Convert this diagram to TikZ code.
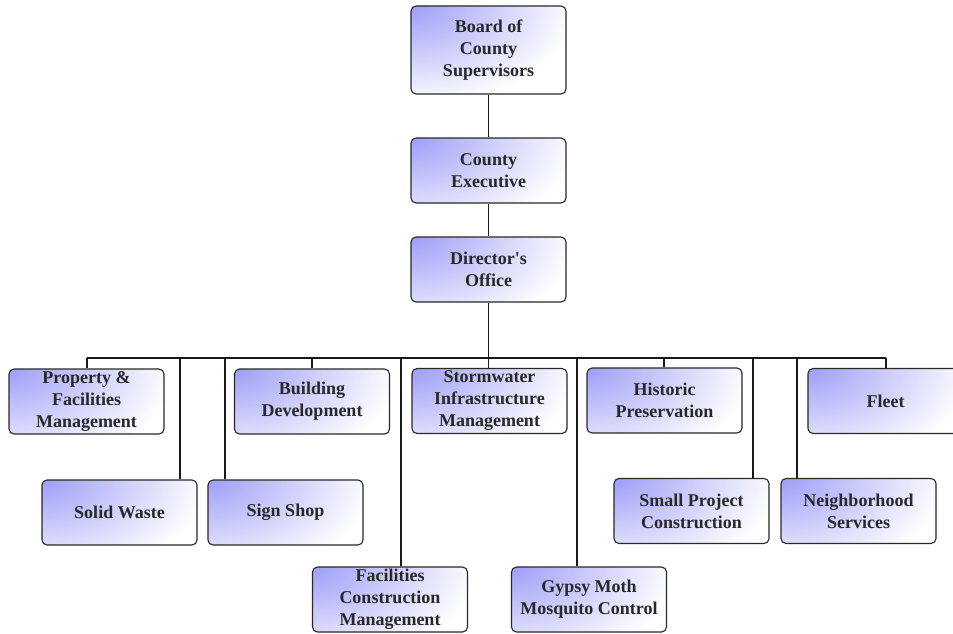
\documentclass[tikz,border=0pt]{standalone}
\usepackage{fontspec}
\setmainfont{Liberation Serif}
\begin{document}
\begin{tikzpicture}[x=1pt,y=-1pt,
  unit/.style={draw={rgb,255:red,40;green,40;blue,40}, line width=1.1pt, rounded corners=5pt, fill=white,
    path picture={\shade[inner color={rgb,255:red,158;green,158;blue,247}, outer color=white]
      (path picture bounding box.north west) ellipse (165 and 100);},
    minimum width=155pt, minimum height=65pt, inner sep=0pt, align=center,
    font=\rmfamily\bfseries\fontsize{18pt}{22pt}\selectfont, text={rgb,255:red,40;green,40;blue,40}},
  link/.style={draw={rgb,255:red,25;green,25;blue,25}, line width=1.1pt}]
\useasboundingbox (0,0) rectangle (953,634);
\clip (0,0) rectangle (953,634);
% top chain
\node[unit, minimum height=88pt] (board) at (488.5,50) {Board of\\County\\Supervisors};
\node[unit] (ce) at (488.5,170.5) {County\\Executive};
\node[unit] (do) at (488.5,269.5) {Director\textquotesingle s\\Office};
% row 1
\node[unit] (pfm) at (86.5,401.5) {Property \&\\Facilities\\Management};
\node[unit] (bd) at (312,401.5) {Building\\Development};
\node[unit] (sim) at (489.5,401) {Stormwater\\Infrastructure\\Management};
\node[unit] (hp) at (664.5,400.5) {Historic\\Preservation};
\node[unit] (fl) at (885.5,401) {Fleet};
% row 2
\node[unit] (sw) at (119.5,512.5) {Solid Waste};
\node[unit] (ss) at (285.5,512.5) {Sign Shop};
\node[unit] (spc) at (691.5,511) {Small Project\\Construction};
\node[unit] (ns) at (858.5,511) {Neighborhood\\Services};
% row 3
\node[unit] (fcm) at (390,599.5) {Facilities\\Construction\\Management};
\node[unit] (gm) at (589,599.5) {Gypsy Moth\\Mosquito Control};
% bus coordinates
\coordinate (b1) at (87,358);
\coordinate (b2) at (180,358);
\coordinate (b3) at (225,358);
\coordinate (b4) at (312,358);
\coordinate (b5) at (401,358);
\coordinate (b6) at (488.5,358);
\coordinate (b7) at (577,358);
\coordinate (b8) at (664,358);
\coordinate (b9) at (753,358);
\coordinate (b10) at (797,358);
\coordinate (b11) at (886,358);
% connectors
\draw[link] (board.south) -- (ce.north);
\draw[link] (ce.south) -- (do.north);
\draw[link] (do.south) -- (b6);
\draw[link] (b1) -- (b11);
\draw[link] (b1) -- (b1 |- pfm.north);
\draw[link] (b2) -- (b2 |- sw.north);
\draw[link] (b3) -- (b3 |- ss.north);
\draw[link] (b4) -- (b4 |- bd.north);
\draw[link] (b5) -- (b5 |- fcm.north);
\draw[link] (b6) -- (b6 |- sim.north);
\draw[link] (b7) -- (b7 |- gm.north);
\draw[link] (b8) -- (b8 |- hp.north);
\draw[link] (b9) -- (b9 |- spc.north);
\draw[link] (b10) -- (b10 |- ns.north);
\draw[link] (b11) -- (b11 |- fl.north);
\end{tikzpicture}
\end{document}
